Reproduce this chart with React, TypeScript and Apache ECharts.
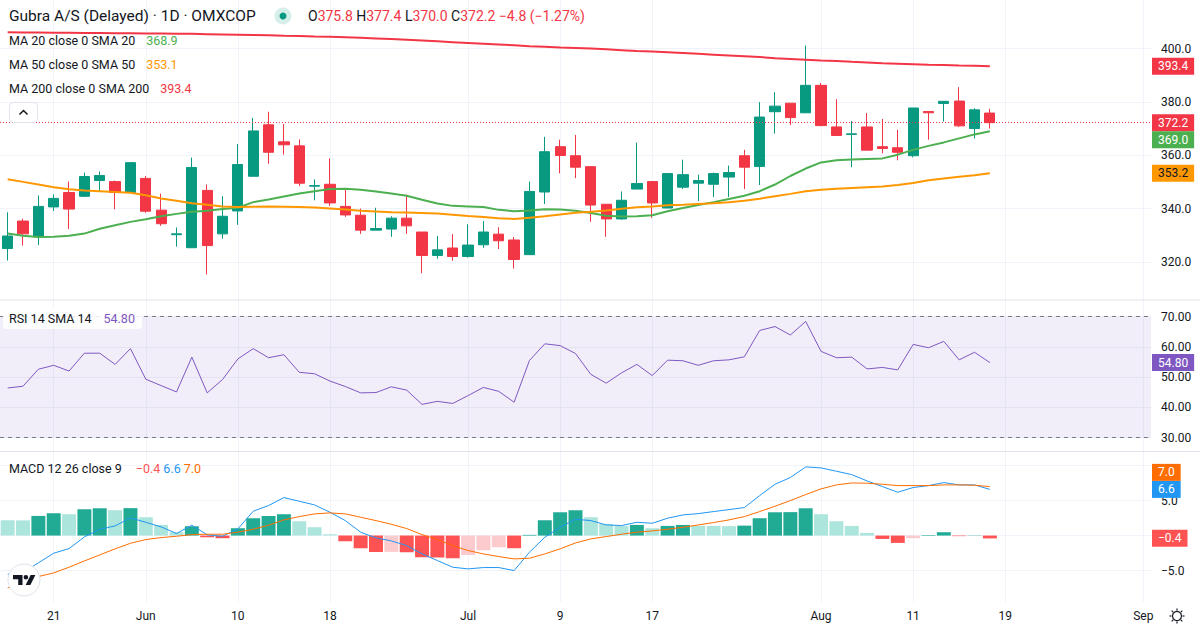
import { useEffect, useRef } from "react";
import * as echarts from "echarts";

// trading days shown on the time axis (last 10 are empty future slots)
const dates = [
  "May 16", "May 19", "May 20", "May 21", "May 22", "May 23", "May 26", "May 27", "May 28", "Jun 2",
  "Jun 3", "Jun 4", "Jun 5", "Jun 6", "Jun 9", "Jun 10", "Jun 11", "Jun 12", "Jun 13", "Jun 16",
  "Jun 17", "Jun 18", "Jun 19", "Jun 20", "Jun 23", "Jun 24", "Jun 25", "Jun 26", "Jun 27", "Jun 30",
  "Jul 1", "Jul 2", "Jul 3", "Jul 4", "Jul 7", "Jul 8", "Jul 9", "Jul 10", "Jul 11", "Jul 14",
  "Jul 15", "Jul 16", "Jul 17", "Jul 18", "Jul 21", "Jul 22", "Jul 23", "Jul 24", "Jul 25", "Jul 28",
  "Jul 29", "Jul 30", "Jul 31", "Aug 1", "Aug 4", "Aug 5", "Aug 6", "Aug 7", "Aug 8", "Aug 11",
  "Aug 12", "Aug 13", "Aug 14", "Aug 15", "Aug 18", "Aug 19", "Aug 20", "Aug 21", "Aug 22", "Aug 25",
  "Aug 26", "Aug 27", "Aug 28", "Aug 29", "Sep 1"
];

const tickLabels: Record<string, string> = {
  "May 21": "21", "Jun 2": "Jun", "Jun 10": "10", "Jun 18": "18", "Jul 1": "Jul", "Jul 9": "9",
  "Jul 17": "17", "Aug 1": "Aug", "Aug 11": "11", "Aug 19": "19", "Sep 1": "Sep"
};

const opens = [
  325.0, 335.3, 329.4, 340.6, 346.0, 344.6, 350.5, 350.1, 346.0, 351.3,
  339.4, 330.2, 325.3, 346.8, 330.5, 339.1, 352.1, 371.4, 365.0, 363.5,
  348.4, 349.1, 340.8, 337.5, 331.9, 332.3, 336.4, 331.2, 322.4, 325.2,
  322.0, 326.4, 330.4, 328.2, 322.7, 346.2, 363.2, 359.8, 355.7, 341.6,
  336.1, 347.3, 350.1, 340.2, 348.0, 349.5, 349.1, 351.8, 359.8, 355.8,
  376.3, 379.5, 375.9, 386.2, 370.6, 367.8, 370.6, 363.2, 362.8, 359.8,
  376.4, 379.4, 380.3, 370.0, 375.8
];
const closes = [
  329.7, 330.5, 340.8, 343.8, 339.8, 352.0, 352.4, 346.0, 357.2, 339.0,
  334.3, 330.5, 355.4, 326.1, 337.1, 356.5, 369.1, 361.1, 363.9, 349.5,
  348.6, 342.1, 337.6, 331.9, 332.5, 336.4, 333.5, 322.4, 324.5, 322.0,
  326.3, 331.2, 327.9, 320.9, 346.4, 361.3, 359.9, 355.5, 341.3, 336.1,
  343.1, 349.4, 342.1, 353.1, 352.7, 350.5, 353.1, 353.5, 355.5, 374.3,
  378.4, 374.1, 386.2, 371.1, 367.4, 368.0, 361.9, 362.5, 361.1, 377.7,
  375.9, 380.2, 371.0, 377.0, 372.2
];
const lows = [
  320.5, 326.1, 326.3, 339.1, 332.3, 344.3, 346.5, 339.7, 346.0, 338.4,
  333.5, 325.7, 325.3, 315.3, 328.7, 333.9, 352.1, 356.8, 360.2, 348.5,
  343.1, 341.0, 336.9, 330.5, 331.9, 329.4, 330.5, 315.7, 321.2, 320.4,
  321.6, 325.3, 324.8, 317.5, 322.7, 341.7, 353.2, 351.4, 335.0, 329.4,
  335.8, 347.3, 336.5, 340.2, 347.3, 342.8, 344.3, 344.3, 347.3, 348.8,
  368.1, 371.3, 375.9, 370.9, 367.4, 355.5, 361.9, 360.7, 358.1, 359.2,
  365.8, 372.6, 370.6, 366.3, 370.0
];
const highs = [
  338.6, 336.2, 344.9, 345.3, 350.1, 353.5, 353.9, 350.5, 357.2, 352.2,
  345.6, 332.9, 359.1, 349.0, 344.6, 364.2, 374.0, 376.3, 371.7, 365.9,
  350.9, 358.8, 347.3, 340.0, 340.3, 337.1, 345.2, 331.2, 329.7, 330.4,
  334.1, 335.3, 333.0, 329.3, 350.1, 366.9, 365.8, 367.6, 355.7, 341.6,
  346.4, 364.7, 350.1, 353.1, 358.3, 352.7, 353.5, 356.1, 362.0, 379.9,
  383.6, 379.5, 401.1, 387.1, 381.0, 372.8, 375.8, 373.6, 369.5, 377.7,
  376.4, 380.2, 385.5, 377.6, 377.4
];

const ma20 = [
  330.6, 329.8, 329.3, 329.4, 329.8, 330.6, 332.4, 333.7, 335.0, 336.0,
  337.1, 338.0, 338.8, 339.2, 339.8, 340.3, 342.4, 343.4, 344.5, 345.6,
  346.5, 347.3, 347.4, 347.0, 346.4, 345.6, 344.8, 343.3, 341.9, 341.0,
  340.8, 340.6, 339.5, 339.0, 339.3, 339.7, 339.6, 339.2, 338.3, 337.3,
  337.0, 337.1, 337.5, 339.0, 340.2, 341.3, 342.4, 343.6, 344.8, 346.5,
  349.0, 352.2, 355.0, 357.3, 358.1, 358.4, 358.6, 358.8, 360.2, 362.0,
  363.5, 364.8, 366.3, 367.8, 369.0
];
const ma50 = [
  351.0, 350.0, 349.0, 348.0, 347.2, 346.8, 346.5, 346.2, 345.9, 345.0,
  343.8, 342.9, 342.0, 341.4, 340.8, 340.6, 340.7, 340.8, 340.7, 340.6,
  340.4, 340.0, 339.6, 339.2, 338.9, 338.6, 338.5, 338.3, 338.1, 337.7,
  337.2, 336.8, 336.4, 336.1, 336.5, 337.1, 337.8, 338.4, 338.8, 339.3,
  339.9, 340.5, 340.8, 341.2, 341.4, 341.7, 342.0, 342.4, 342.9, 343.7,
  344.6, 345.5, 346.5, 347.0, 347.4, 347.7, 348.0, 348.3, 348.8, 349.6,
  350.6, 351.3, 351.9, 352.5, 353.2
];
const ma200 = [
  406.1, 406.0, 406.0, 405.9, 405.9, 405.8, 405.8, 405.7, 405.7, 405.6,
  405.6, 405.5, 405.5, 405.4, 405.3, 405.2, 405.1, 405.0, 404.8, 404.7,
  404.5, 404.4, 404.2, 404.0, 403.8, 403.6, 403.3, 403.0, 402.7, 402.4,
  402.1, 401.8, 401.5, 401.2, 400.9, 400.7, 400.4, 400.2, 400.0, 399.7,
  399.4, 399.1, 398.9, 398.6, 398.3, 398.0, 397.7, 397.4, 397.1, 396.8,
  396.4, 396.1, 395.8, 395.5, 395.3, 395.0, 394.8, 394.5, 394.3, 394.1,
  393.9, 393.8, 393.6, 393.5, 393.4
];

const rsi = [
  46.4, 47.0, 52.6, 53.9, 52.0, 57.9, 57.9, 54.2, 59.4, 49.3,
  47.2, 45.1, 56.6, 44.8, 49.2, 56.0, 59.4, 56.4, 57.4, 51.6,
  51.1, 48.7, 46.9, 44.8, 44.9, 46.8, 45.7, 41.0, 42.0, 41.3,
  43.9, 46.6, 45.3, 41.7, 55.5, 61.0, 60.4, 57.8, 50.9, 48.0,
  51.4, 54.2, 50.5, 55.6, 55.4, 53.9, 55.4, 55.7, 56.7, 65.4,
  66.7, 63.9, 68.4, 58.5, 56.4, 56.6, 52.7, 53.2, 52.4, 60.8,
  59.7, 61.8, 55.7, 58.2, 54.8
];

const macdHist = [
  2.19, 2.17, 2.81, 3.19, 3.05, 3.76, 3.90, 3.62, 3.92, 2.62,
  1.52, 0.48, 1.33, -0.24, -0.38, 1.05, 2.48, 2.81, 3.05, 2.05,
  1.19, 0.19, -0.81, -1.81, -2.36, -2.33, -2.38, -3.10, -3.12, -3.24,
  -2.76, -2.10, -1.67, -1.81, 0.10, 2.19, 3.33, 3.62, 2.62, 1.67,
  1.38, 1.52, 1.05, 1.38, 1.52, 1.38, 1.37, 1.35, 1.42, 2.48,
  3.33, 3.35, 3.90, 3.05, 2.05, 1.38, 0.38, -0.48, -1.05, -0.38,
  0.08, 0.48, -0.08, 0.04, -0.4
];
const macdLine = [
  -5.52, -5.24, -3.90, -2.52, -1.86, -0.19, 0.90, 1.38, 2.52, 1.90,
  1.24, 0.29, 1.48, 0.10, -0.10, 0.95, 3.48, 4.29, 5.43, 4.90,
  4.38, 3.33, 2.14, 0.48, -0.33, -0.76, -1.43, -2.62, -3.57, -4.52,
  -4.76, -4.57, -4.57, -5.00, -2.38, -0.24, 1.19, 2.33, 2.14, 1.52,
  1.43, 1.90, 1.76, 2.48, 2.95, 3.14, 3.43, 3.71, 4.00, 5.71,
  7.33, 8.29, 9.81, 9.67, 9.19, 8.71, 7.81, 7.00, 6.19, 6.86,
  7.14, 7.57, 7.24, 7.24, 6.6
];
const macdSignal = [
  -7.48, -6.67, -5.86, -5.33, -4.52, -3.62, -2.76, -1.90, -1.10, -0.57,
  -0.29, -0.10, 0.14, 0.19, 0.19, 0.48, 0.90, 1.48, 2.24, 2.71,
  3.10, 3.24, 3.10, 2.62, 2.14, 1.62, 1.00, 0.14, -0.57, -1.43,
  -2.14, -2.62, -3.00, -3.33, -3.24, -2.62, -1.90, -1.05, -0.48, -0.14,
  0.19, 0.48, 0.67, 0.90, 1.19, 1.52, 1.86, 2.24, 2.71, 3.43,
  4.19, 5.00, 5.86, 6.67, 7.24, 7.52, 7.48, 7.33, 7.14, 7.14,
  7.14, 7.24, 7.24, 7.19, 7.0
];

const FONT = "Roboto, Arial, sans-serif";
const TEXT = "#131722";
const GRIDLINE = "#f0f3fa";
const UP = "#089981";
const DOWN = "#f23645";
const TAG_H = 17;
const last = closes.length - 1;

echarts.graphic.registerShape(
  "tvlogo",
  echarts.graphic.extendPath(
    "M0 0H9.5V10H5.2V4.3H0Z M10.6 2.3a2.3 2.3 0 1 0 4.6 0a2.3 2.3 0 1 0 -4.6 0Z M17.6 0H22.4L17.4 10H12.6Z",
    {}
  )
);

const minus = (v: number, d: number) => (v < 0 ? "\u2212" : "") + Math.abs(v).toFixed(d);

const isTick = (i: number) => !!tickLabels[dates[i]];

const panes = [
  { top: 0, height: 300, min: 305.7, max: 418.2, digits: 1 },
  { top: 300.5, height: 150.5, min: 25.6, max: 75.3, digits: 2 },
  { top: 452, height: 150, min: -9.49, max: 11.94, digits: 1 }
];

const xAxis = (gridIndex: number, labels: boolean) => ({
  type: "category",
  gridIndex,
  data: dates,
  axisLine: { show: false },
  axisTick: { show: false },
  axisLabel: {
    show: labels,
    interval: (i: number) => isTick(i),
    formatter: (v: string) => tickLabels[v] ?? "",
    color: TEXT,
    fontSize: 12,
    fontFamily: FONT,
    margin: 8
  },
  splitLine: {
    show: true,
    interval: (i: number) => isTick(i),
    alignWithLabel: true,
    lineStyle: { color: GRIDLINE, width: 1 }
  }
});

// hidden: pixel rows taken by value tags on that pane; labels under a tag are left out
const yAxis = (gridIndex: number, hidden: number[] = []) => {
  const p = panes[gridIndex];
  return {
    type: "value",
    gridIndex,
    position: "right",
    min: p.min,
    max: p.max,
    splitNumber: 5,
    axisLine: { show: false },
    axisTick: { show: false },
    axisLabel: {
      showMinLabel: false,
      showMaxLabel: false,
      formatter: (v: number) => {
        const py = p.top + ((p.max - v) / (p.max - p.min)) * p.height;
        return hidden.some((y) => Math.abs(y - py) < 10) ? "" : minus(v, p.digits);
      },
      color: TEXT,
      fontSize: 12,
      fontFamily: FONT,
      margin: 10
    },
    splitLine: { showMinLine: false, showMaxLine: false, lineStyle: { color: GRIDLINE, width: 1 } }
  };
};

function tagGraphics(chart: echarts.ECharts) {
  const fmt1 = (v: number) => v.toFixed(1);
  const groups = [
    [
      { axis: 0, value: closes[last], text: fmt1(closes[last]), bg: closes[last] < opens[last] ? DOWN : UP, fg: "#ffffff" },
      { axis: 0, value: ma200[last], text: fmt1(ma200[last]), bg: "#f23645", fg: "#ffffff" },
      { axis: 0, value: ma20[last], text: fmt1(ma20[last]), bg: "#4caf50", fg: "#ffffff" },
      { axis: 0, value: ma50[last], text: fmt1(ma50[last]), bg: "#ff9800", fg: TEXT }
    ],
    [{ axis: 1, value: rsi[last], text: rsi[last].toFixed(2), bg: "#7e57c2", fg: "#ffffff" }],
    [
      { axis: 2, value: macdLine[last], text: minus(macdLine[last], 1), bg: "#2196f3", fg: "#ffffff" },
      { axis: 2, value: macdSignal[last], text: minus(macdSignal[last], 1), bg: "#ff6d00", fg: "#ffffff" },
      { axis: 2, value: macdHist[last], text: minus(macdHist[last], 1), bg: "#ff5252", fg: "#ffffff" }
    ]
  ];
  const elements: any[] = [];
  const taken: number[][] = [[], [], []];
  groups.forEach((group) => {
    const placed: { y: number; v: number }[] = [];
    group.forEach((t) => {
      let y = chart.convertToPixel({ yAxisIndex: t.axis }, t.value) as unknown as number;
      placed.forEach((p) => {
        if (Math.abs(y - p.y) < TAG_H) y = t.value < p.v ? p.y + TAG_H : p.y - TAG_H;
      });
      placed.push({ y, v: t.value });
      taken[t.axis].push(y);
      elements.push({
        type: "text",
        x: 1152,
        y,
        z: 50,
        style: {
          text: t.text,
          fill: t.fg,
          backgroundColor: t.bg,
          padding: [2, 6, 2, 6],
          lineHeight: 13,
          fontSize: 12,
          fontFamily: FONT,
          align: "left",
          verticalAlign: "middle",
          textAlign: "left",
          textVerticalAlign: "middle"
        }
      });
    });
  });
  return { elements, taken };
}

function staticGraphics() {
  const change = closes[last] - closes[last - 1];
  const pct = (change / closes[last - 1]) * 100;
  const txt = (x: number, y: number, text: string, rich: Record<string, any>, size = 12.5) => ({
    type: "text",
    x,
    y,
    z: 40,
    style: {
      text,
      rich,
      fill: TEXT,
      fontSize: size,
      fontFamily: FONT,
      align: "left",
      verticalAlign: "middle",
      textAlign: "left",
      textVerticalAlign: "middle"
    }
  });
  const s = (fill: string, size = 12.5, extra: Record<string, any> = {}) => ({ fill, fontSize: size, fontFamily: FONT, ...extra });
  const gear: any[] = [];
  for (let k = 0; k < 8; k++) {
    const a = (k * Math.PI) / 4;
    gear.push({
      type: "line",
      z: 40,
      shape: { x1: 1177 + Math.cos(a) * 5.5, y1: 616 + Math.sin(a) * 5.5, x2: 1177 + Math.cos(a) * 7.5, y2: 616 + Math.sin(a) * 7.5 },
      style: { stroke: TEXT, lineWidth: 1.2 }
    });
  }
  return [
    { type: "line", shape: { x1: 0, y1: 300, x2: 1200, y2: 300 }, style: { stroke: "#e0e3eb", lineWidth: 1 }, z: 30 },
    { type: "line", shape: { x1: 0, y1: 451.5, x2: 1200, y2: 451.5 }, style: { stroke: "#e0e3eb", lineWidth: 1 }, z: 30 },
    txt(9, 16, "Gubra A/S (Delayed) \u00b7 1D \u00b7 OMXCOP", {}, 15.5),
    { type: "circle", shape: { cx: 283, cy: 16, r: 8.5 }, style: { fill: "rgba(8,153,129,0.16)" }, z: 40 },
    { type: "circle", shape: { cx: 283, cy: 16, r: 3.5 }, style: { fill: UP }, z: 41 },
    txt(
      308,
      16,
      `{k|O}{v|${opens[last].toFixed(1)}} {k|H}{v|${highs[last].toFixed(1)}} {k|L}{v|${lows[last].toFixed(1)}} {k|C}{v|${closes[last].toFixed(1)}} {v|${minus(change, 1)} (${minus(pct, 2)}%)}`,
      { k: s(TEXT, 14), v: s(DOWN, 14) },
      14
    ),
    txt(9, 40, "{t|MA 20 close 0 SMA 20}{v|368.9}", { t: s(TEXT), v: s("#4caf50", 12.5, { padding: [0, 0, 0, 11] }) }),
    txt(9, 64, "{t|MA 50 close 0 SMA 50}{v|353.1}", { t: s(TEXT), v: s("#ff9800", 12.5, { padding: [0, 0, 0, 11] }) }),
    txt(9, 88, "{t|MA 200 close 0 SMA 200}{v|393.4}", { t: s(TEXT), v: s(DOWN, 12.5, { padding: [0, 0, 0, 11] }) }),
    { type: "rect", shape: { x: 9.5, y: 102.5, width: 28, height: 20, r: 4 }, style: { fill: "#ffffff", stroke: "#e0e3eb", lineWidth: 1 }, z: 40 },
    { type: "polyline", shape: { points: [[19.5, 114.5], [23.5, 110.5], [27.5, 114.5]] }, style: { stroke: TEXT, lineWidth: 1.5, fill: "none" }, z: 41 },
    { type: "rect", shape: { x: 3, y: 307, width: 139, height: 22, r: 3 }, style: { fill: "rgba(255,255,255,0.85)" }, z: 39 },
    txt(9, 318, "{t|RSI 14 SMA 14}{v|54.80}", { t: s(TEXT), v: s("#7e57c2", 12.5, { padding: [0, 0, 0, 12] }) }),
    txt(
      9,
      468,
      `{t|MACD 12 26 close 9}{r|${minus(macdHist[last], 1)}} {b|${minus(macdLine[last], 1)}} {o|${minus(macdSignal[last], 1)}}`,
      { t: s(TEXT), r: s("#ff5252", 12.5, { padding: [0, 0, 0, 14] }), b: s("#2196f3"), o: s("#ff6d00") }
    ),
    { type: "circle", shape: { cx: 24, cy: 580, r: 16 }, style: { fill: "#ffffff", stroke: "#e0e3eb", lineWidth: 1 }, z: 40 },
    { type: "tvlogo", x: 13, y: 575, scaleX: 1, scaleY: 1, style: { fill: TEXT }, z: 41 },
    { type: "circle", shape: { cx: 1177, cy: 616, r: 4.5 }, style: { fill: "none", stroke: TEXT, lineWidth: 1.2 }, z: 40 },
    ...gear
  ];
}

export default function App() {
  const chartRef = useRef<HTMLDivElement | null>(null);

  useEffect(() => {
    if (!chartRef.current) {
      return;
    }

    const chart = echarts.init(chartRef.current, null, { renderer: "svg" });
    const candles = opens.map((o, i) => [o, closes[i], lows[i], highs[i]]);

    chart.setOption({
      animation: false,
      backgroundColor: "#ffffff",
      textStyle: { fontFamily: FONT },
      grid: panes.map((p) => ({ left: 0, right: 49, top: p.top, height: p.height })),
      xAxis: [xAxis(0, false), xAxis(1, false), xAxis(2, true)],
      yAxis: [yAxis(0), yAxis(1), yAxis(2)],
      series: [
        {
          name: "OHLC",
          type: "candlestick",
          xAxisIndex: 0,
          yAxisIndex: 0,
          data: candles,
          barWidth: "70%",
          itemStyle: { color: UP, color0: DOWN, borderColor: UP, borderColor0: DOWN, borderWidth: 1 },
          markLine: {
            silent: true,
            symbol: "none",
            label: { show: false },
            lineStyle: { color: DOWN, type: [1, 2], width: 1 },
            data: [{ yAxis: closes[last] }]
          }
        },
        { name: "MA 20", type: "line", xAxisIndex: 0, yAxisIndex: 0, data: ma20, showSymbol: false, lineStyle: { color: "#4caf50", width: 2 } },
        { name: "MA 50", type: "line", xAxisIndex: 0, yAxisIndex: 0, data: ma50, showSymbol: false, lineStyle: { color: "#ff9800", width: 2 } },
        { name: "MA 200", type: "line", xAxisIndex: 0, yAxisIndex: 0, data: ma200, showSymbol: false, lineStyle: { color: "#f23645", width: 2 } },
        {
          name: "RSI",
          type: "line",
          xAxisIndex: 1,
          yAxisIndex: 1,
          data: rsi,
          showSymbol: false,
          lineStyle: { color: "#7e57c2", width: 1 },
          markArea: {
            silent: true,
            itemStyle: { color: "rgba(126,87,194,0.1)" },
            data: [[{ yAxis: 30 }, { yAxis: 70 }]]
          },
          markLine: {
            silent: true,
            symbol: "none",
            label: { show: false },
            lineStyle: { color: "#787b86", type: [4, 4], width: 1 },
            data: [{ yAxis: 70 }, { yAxis: 30 }]
          }
        },
        {
          name: "Histogram",
          type: "bar",
          xAxisIndex: 2,
          yAxisIndex: 2,
          barCategoryGap: "9%",
          data: macdHist.map((v, i) => {
            const prev = i > 0 ? macdHist[i - 1] : Infinity;
            const color = v >= 0 ? (v > prev ? "#22ab94" : "#ace5dc") : v < prev ? "#ff5252" : "#fccbcd";
            return { value: v, itemStyle: { color } };
          })
        },
        { name: "MACD", type: "line", xAxisIndex: 2, yAxisIndex: 2, data: macdLine, showSymbol: false, lineStyle: { color: "#2196f3", width: 1 } },
        { name: "Signal", type: "line", xAxisIndex: 2, yAxisIndex: 2, data: macdSignal, showSymbol: false, lineStyle: { color: "#ff6d00", width: 1 } }
      ]
    });

    const tags = tagGraphics(chart);
    chart.setOption({
      yAxis: [yAxis(0, tags.taken[0]), yAxis(1, tags.taken[1]), yAxis(2, tags.taken[2])],
      graphic: { elements: [...staticGraphics(), ...tags.elements] }
    });

    return () => {
      chart.dispose();
    };
  }, []);

  return (
    <div
      ref={chartRef}
      style={{ position: "fixed", left: 0, top: 0, width: 1200, height: 630, background: "#ffffff" }}
    />
  );
}
